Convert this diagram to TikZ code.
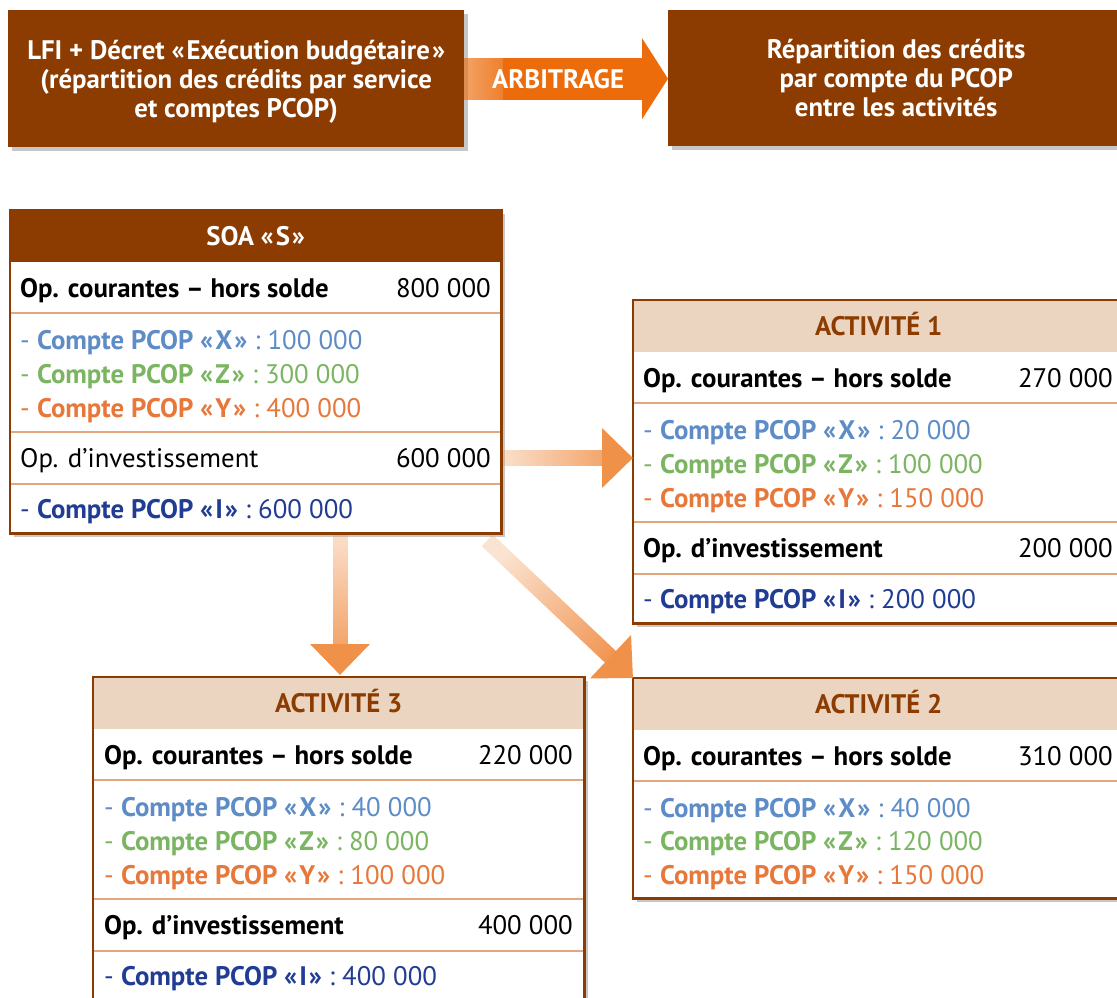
\documentclass[tikz,border=0pt]{standalone}
\usepackage{fontspec}
\setmainfont{PT Sans}
\usetikzlibrary{
  arrows.meta,
  positioning,
  calc,
  shadows,
  fadings
}
\definecolor{soaBrown}{HTML}{8C3C00}
\definecolor{soaBeige}{HTML}{EBD5C1}
\definecolor{soaSep}{HTML}{E3A77F}
\definecolor{soaArrow}{HTML}{F0914A}
\definecolor{soaArbi}{HTML}{EC6C0B}
\definecolor{pcopX}{HTML}{5D8CC7}
\definecolor{pcopZ}{HTML}{7BB562}
\definecolor{pcopY}{HTML}{E8773A}
\definecolor{pcopI}{HTML}{203C93}
\tikzfading[name=fadestart, left color=transparent!75, middle color=transparent!0, right color=transparent!0]
\tikzfading[name=fadelinear, left color=transparent!50, right color=transparent!0]
\newcommand{\gq}[1]{«\kern2pt#1\kern2pt»}
\tikzset{
  txt/.style={font=\fontsize{26.8}{29}\selectfont},
  txtbold/.style={font=\fontsize{26.8}{29}\selectfont\bfseries},
  boxshadow/.style={drop shadow={shadow xshift=4pt, shadow yshift=-4pt, opacity=0.22, fill=black}},
  topbox/.style={txtbold, fill=soaBrown, text=white, align=center, anchor=north west,
    inner sep=0pt, minimum width=456, minimum height=137, text depth=0pt, boxshadow},
  tableframe/.style={fill=white, anchor=north west, inner sep=0pt, minimum width=491, boxshadow},
  tableline/.style={draw=soaBrown, line width=2.5pt},
  soahead/.style={txtbold, fill=soaBrown, text=white, anchor=north west, inner sep=0pt,
    minimum width=491, minimum height=52, text height=22pt, text depth=4pt},
  acthead/.style={soahead, fill=soaBeige, text=soaBrown},
  sepline/.style={draw=soaSep, line width=1.3pt},
  rowtext/.style={txt, inner sep=0pt, text height=22pt, text depth=4pt},
  rowlabel/.style={rowtext, txtbold, anchor=west},
  rowvalue/.style={rowtext, anchor=east},
  pcop/.style={rowtext, anchor=west},
  fatshaft/.style={draw=soaArrow, line width=16pt, shorten >=29pt, path fading=fadestart},
  fattip/.style={draw=soaArrow, line width=16pt, -{Triangle[width=58pt, length=31pt]}},
  arbishaft/.style={draw=soaArbi, line width=42pt},
  arbitip/.style={draw=soaArbi, line width=42pt, -{Triangle[width=80pt, length=26pt]}},
  arbilabel/.style={txtbold, text=white, inner sep=0pt}
}
\begin{document}
\begin{tikzpicture}[x=1pt, y=-1pt]
  \useasboundingbox (0,0) rectangle (1117,998);
  \clip (0,0) rectangle (1117,998);
  \fill[white] (0,0) rectangle (1117,998);

  % top row
  \node[topbox] (lfi) at (8,10) {LFI + Décret \gq{Exécution budgétaire}\\(répartition des crédits par service\\et comptes PCOP)};
  \node[topbox, minimum height=136] (repart) at (668,10) {Répartition des crédits\\par compte du PCOP\\entre les activités};
  \coordinate (arbi-s) at (lfi.east);
  \coordinate (arbi-e) at (lfi.east -| repart.west);
  \draw[arbishaft, path fading=fadelinear] (arbi-s) -- ($(arbi-s)+(40,0)$);
  \draw[arbishaft] ($(arbi-s)+(39,0)$) -- ($(arbi-e)+(-25,0)$);
  \draw[arbitip] ($(arbi-e)+(-26,0)$) -- (arbi-e);
  \node[arbilabel] (arbi) at ($(arbi-s)!0.46!(arbi-e)$) {ARBITRAGE};

  % SOA
  \node[tableframe, minimum height=323] (soa) at (10,210) {};
  \node[soahead] (soa-head) at (10,210) {SOA \gq{S}};
  \draw[sepline] (10,313) -- (501,313);
  \draw[sepline] (10,432) -- (501,432);
  \draw[sepline] (10,484) -- (501,484);
  \node[rowlabel] (soa-cour) at (20,288) {Op. courantes – hors solde};
  \node[rowvalue] (soa-cour-v) at (491,288) {800 000};
  \node[pcop, text=pcopX] (soa-x) at (20,340) {- \textbf{Compte PCOP \gq{X}} : 100 000};
  \node[pcop, text=pcopZ] (soa-z) at (20,374) {- \textbf{Compte PCOP \gq{Z}} : 300 000};
  \node[pcop, text=pcopY] (soa-y) at (20,408) {- \textbf{Compte PCOP \gq{Y}} : 400 000};
  \node[rowlabel, txt] (soa-inv) at (20,458) {Op. d’investissement};
  \node[rowvalue] (soa-inv-v) at (491,458) {600 000};
  \node[pcop, text=pcopI] (soa-i) at (20,509) {- \textbf{Compte PCOP \gq{I}} : 600 000};
  \draw[tableline] (soa.north west) rectangle (soa.south east);

  % Activite 1
  \node[tableframe, minimum height=323] (act1) at (633,300) {};
  \node[acthead] (act1-head) at (633,300) {ACTIVITÉ 1};
  \draw[sepline] (633,403) -- (1124,403);
  \draw[sepline] (633,522) -- (1124,522);
  \draw[sepline] (633,574) -- (1124,574);
  \node[rowlabel] (act1-cour) at (643,378) {Op. courantes – hors solde};
  \node[rowvalue] (act1-cour-v) at (1113,378) {270 000};
  \node[pcop, text=pcopX] (act1-x) at (643,430) {- \textbf{Compte PCOP \gq{X}} : 20 000};
  \node[pcop, text=pcopZ] (act1-z) at (643,464) {- \textbf{Compte PCOP \gq{Z}} : 100 000};
  \node[pcop, text=pcopY] (act1-y) at (643,498) {- \textbf{Compte PCOP \gq{Y}} : 150 000};
  \node[rowlabel] (act1-inv) at (643,548) {Op. d’investissement};
  \node[rowvalue] (act1-inv-v) at (1113,548) {200 000};
  \node[pcop, text=pcopI] (act1-i) at (643,599) {- \textbf{Compte PCOP \gq{I}} : 200 000};
  \draw[tableline] (act1.north west) rectangle (act1.south east);

  % Activite 2
  \node[tableframe, minimum height=220] (act2) at (633,678) {};
  \node[acthead] (act2-head) at (633,678) {ACTIVITÉ 2};
  \draw[sepline] (633,781) -- (1124,781);
  \node[rowlabel] (act2-cour) at (643,756) {Op. courantes – hors solde};
  \node[rowvalue] (act2-cour-v) at (1113,756) {310 000};
  \node[pcop, text=pcopX] (act2-x) at (643,808) {- \textbf{Compte PCOP \gq{X}} : 40 000};
  \node[pcop, text=pcopZ] (act2-z) at (643,841) {- \textbf{Compte PCOP \gq{Z}} : 120 000};
  \node[pcop, text=pcopY] (act2-y) at (643,875) {- \textbf{Compte PCOP \gq{Y}} : 150 000};
  \draw[tableline] (act2.north west) rectangle (act2.south east);

  % Activite 3
  \node[tableframe, minimum height=323] (act3) at (93,677) {};
  \node[acthead] (act3-head) at (93,677) {ACTIVITÉ 3};
  \draw[sepline] (93,780) -- (584,780);
  \draw[sepline] (93,899) -- (584,899);
  \draw[sepline] (93,951) -- (584,951);
  \node[rowlabel] (act3-cour) at (104,755) {Op. courantes – hors solde};
  \node[rowvalue] (act3-cour-v) at (573,755) {220 000};
  \node[pcop, text=pcopX] (act3-x) at (104,807) {- \textbf{Compte PCOP \gq{X}} : 40 000};
  \node[pcop, text=pcopZ] (act3-z) at (104,841) {- \textbf{Compte PCOP \gq{Z}} : 80 000};
  \node[pcop, text=pcopY] (act3-y) at (104,875) {- \textbf{Compte PCOP \gq{Y}} : 100 000};
  \node[rowlabel] (act3-inv) at (104,925) {Op. d’investissement};
  \node[rowvalue] (act3-inv-v) at (573,925) {400 000};
  \node[pcop, text=pcopI] (act3-i) at (104,976) {- \textbf{Compte PCOP \gq{I}} : 400 000};
  \draw[tableline] (act3.north west) rectangle (act3.south east);

  % fleches de repartition
  \coordinate (a1-s) at ($(soa.east |- soa-inv.east)+(2,0)$);
  \coordinate (a1-e) at (act1.west |- soa-inv.east);
  \draw[fatshaft] (a1-s) -- (a1-e);
  \draw[fattip] ($(a1-e)!31pt!(a1-s)$) -- (a1-e);
  \coordinate (a3-s) at ($(soa.south west)+(330,2)$);
  \coordinate (a3-e) at ($(act3.north west)+(247,-2)$);
  \draw[fatshaft, fading angle=-90, line width=15pt] (a3-s) -- (a3-e);
  \draw[fattip, line width=15pt] ($(a3-e)!31pt!(a3-s)$) -- (a3-e);
  \coordinate (a2-s) at ($(soa.south east)+(-14,7)$);
  \coordinate (a2-e) at (act2.north west);
  \draw[fatshaft, fading angle=-45] (a2-s) -- (a2-e);
  \draw[fattip] ($(a2-e)!31pt!(a2-s)$) -- (a2-e);
\end{tikzpicture}
\end{document}
